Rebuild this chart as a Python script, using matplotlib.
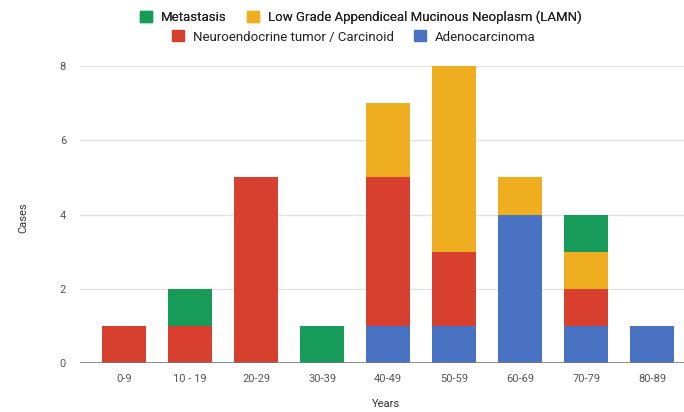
import matplotlib
matplotlib.use("Agg")
import matplotlib.pyplot as plt
import numpy as np
from matplotlib.patches import Patch

categories = ["0-9", "10 - 19", "20-29", "30-39", "40-49", "50-59", "60-69", "70-79", "80-89"]
adenocarcinoma = [0, 0, 0, 0, 1, 1, 4, 1, 1]
neuroendocrine = [1, 1, 5, 0, 4, 2, 0, 1, 0]
lamn = [0, 0, 0, 0, 2, 5, 1, 1, 0]
metastasis = [0, 1, 0, 1, 0, 0, 0, 1, 0]

c_blue = "#4a72c2"
c_red = "#d7402f"
c_yellow = "#eeae1f"
c_green = "#169c58"

plt.rcParams['font.family'] = ['Roboto', 'DejaVu Sans']

fig = plt.figure(figsize=(6.84, 4.12), dpi=100)
ax = fig.add_axes([80/684, 1 - 363/412, 1 - 80/684, (363 - 66)/412])

x = np.arange(len(categories))
w = 0.67
b1 = np.array(adenocarcinoma, dtype=float)
b2 = b1 + np.array(neuroendocrine)
b3 = b2 + np.array(lamn)
ax.bar(x, adenocarcinoma, w, color=c_blue, zorder=3)
ax.bar(x, neuroendocrine, w, bottom=b1, color=c_red, zorder=3)
ax.bar(x, lamn, w, bottom=b2, color=c_yellow, zorder=3)
ax.bar(x, metastasis, w, bottom=b3, color=c_green, zorder=3)

ax.set_xlim(-0.67, 8.48)
ax.set_ylim(0, 8)
ax.set_yticks([0, 2, 4, 6, 8])
ax.set_xticks(x)
ax.set_xticklabels(categories)
ax.grid(axis='y', color='#e2e2e2', linewidth=1, zorder=0)
ax.axhline(0, color='#777777', linewidth=1.2, zorder=4)
for s in ax.spines.values():
    s.set_visible(False)
ax.tick_params(axis='both', length=0, labelsize=8, labelcolor='#555555')
ax.tick_params(axis='x', pad=8)
ax.tick_params(axis='y', pad=10)
fig.text(386/684, 1 - 404/412, "Years", fontsize=8, color='#333333', ha='center', va='center')
fig.text(23/684, 1 - 218/412, "Cases", fontsize=8, color='#333333', ha='center', va='center',
         rotation=90)

common = dict(loc='center', ncol=2, frameon=False, fontsize=9.5, handlelength=0.9,
              handleheight=0.9, handletextpad=0.7, columnspacing=1.5, borderpad=0,
              labelcolor='#222222')
leg1 = fig.legend(handles=[Patch(color=c_green, label="Metastasis"),
                           Patch(color=c_yellow, label="Low Grade Appendiceal Mucinous Neoplasm (LAMN)")],
                  bbox_to_anchor=(361/684, 1 - 17/412), **common)
leg2 = fig.legend(handles=[Patch(color=c_red, label="Neuroendocrine tumor / Carcinoid"),
                           Patch(color=c_blue, label="Adenocarcinoma")],
                  bbox_to_anchor=(354/684, 1 - 37/412), **common)
fig.add_artist(leg1)

fig.savefig("out.png", dpi=100, facecolor='white')
